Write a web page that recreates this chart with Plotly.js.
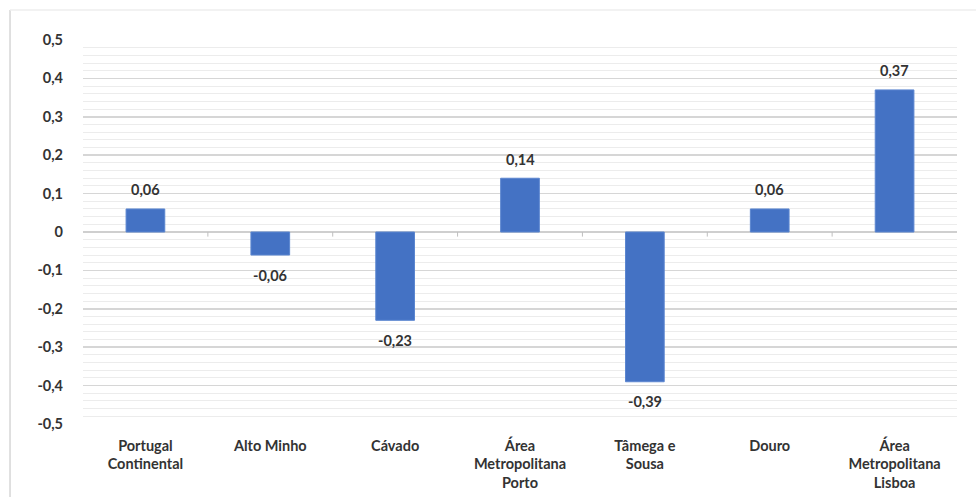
<!DOCTYPE html>
<html>
<head>
<meta charset="utf-8">
<script src="https://cdn.plot.ly/plotly-3.0.1.min.js"></script>
<style>
  html, body { margin: 0; padding: 0; background: #fff; }
  #chart { width: 976px; height: 497px; }
</style>
</head>
<body>
<div id="chart"></div>
<script>
// Regions (NUTS III) and their change values
const regions = [
  'Portugal<br>Continental',
  'Alto Minho',
  'Cávado',
  'Área<br>Metropolitana<br>Porto',
  'Tâmega e<br>Sousa',
  'Douro',
  'Área<br>Metropolitana<br>Lisboa'
];
const values = [0.06, -0.06, -0.23, 0.14, -0.39, 0.06, 0.37];

// Y axis ticks
const yTickVals = [0.5, 0.4, 0.3, 0.2, 0.1, 0, -0.1, -0.2, -0.3, -0.4, -0.5];
const yTickText = ['0,5', '0,4', '0,3', '0,2', '0,1', '0', '-0,1', '-0,2', '-0,3', '-0,4', '-0,5'];

const fmt = v => v.toFixed(2).replace('.', ',');
const FONT = 'Lato, "Open Sans", sans-serif';
const TXT = '#333333';

const trace = {
  type: 'bar',
  x: regions,
  y: values,
  marker: { color: '#4472C4', line: { color: '#5b86d0', width: 1 } },
  hoverinfo: 'x+y'
};

// value labels: above positive bars, below negative ones
const valueLabels = values.map((v, i) => ({
  xref: 'x', yref: 'y',
  x: regions[i], y: v,
  text: fmt(v),
  showarrow: false,
  yanchor: 'middle',
  yshift: v >= 0 ? 19 : -20,
  font: { family: FONT, size: 14.5, color: TXT, weight: 'bold' }
}));

// small tick marks on the zero line between categories
const boundaryTicks = regions.slice(0, -1).map((_, i) => ({
  type: 'line', xref: 'x', yref: 'y',
  x0: i + 0.5, x1: i + 0.5, y0: 0, y1: -0.012,
  line: { color: '#bfbfbf', width: 1 }
}));

const layout = {
  width: 976,
  height: 497,
  margin: { l: 83, r: 19, t: 40, b: 73 },
  paper_bgcolor: '#ffffff',
  plot_bgcolor: '#ffffff',
  bargap: 0.69,
  showlegend: false,
  font: { family: FONT, color: TXT },
  xaxis: {
    type: 'category',
    showgrid: false,
    showline: false,
    ticks: '',
    tickfont: { family: FONT, size: 14.5, color: TXT, weight: 'bold' },
    ticklabelstandoff: 11,
    fixedrange: true
  },
  yaxis: {
    range: [-0.5, 0.5],
    tickvals: yTickVals,
    ticktext: yTickText,
    tickfont: { family: FONT, size: 14.5, color: TXT, weight: 'bold' },
    ticklabelstandoff: 19,
    showgrid: true,
    gridcolor: '#d6d6d6',
    gridwidth: 1.5,
    minor: { dtick: 0.02, showgrid: true, gridcolor: '#ececec', gridwidth: 1 },
    zeroline: true,
    zerolinecolor: '#cfcfcf',
    zerolinewidth: 1.5,
    showline: false,
    fixedrange: true
  },
  annotations: valueLabels,
  shapes: boundaryTicks.concat([
    // frame edges around the chart area
    { type: 'line', xref: 'paper', yref: 'paper',
      x0: -0.0835, x1: -0.0835, y0: 1.078, y1: -0.3,
      line: { color: '#d6d6d6', width: 1.5 } },
    { type: 'line', xref: 'paper', yref: 'paper',
      x0: -0.0835, x1: 1.03, y0: 1.078, y1: 1.078,
      line: { color: '#eeeeee', width: 1.5 } }
  ])
};

Plotly.newPlot('chart', [trace], layout, { displayModeBar: false, staticPlot: true });
</script>
</body>
</html>
